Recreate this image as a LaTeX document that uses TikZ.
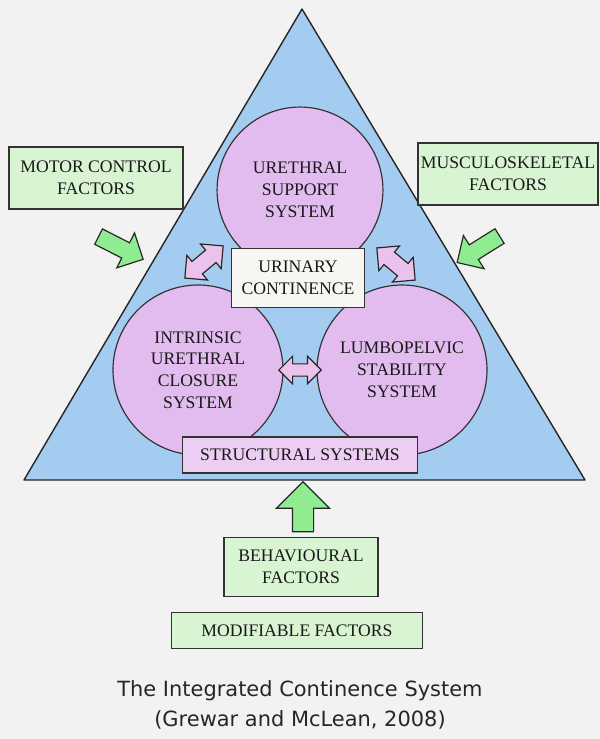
\documentclass[tikz,border=0pt]{standalone}
\usepackage{fontspec}
\setmainfont{Liberation Serif}
\newfontfamily\captionfont{DejaVu Sans}
\usepackage{tikz}
\usetikzlibrary{shapes.arrows,positioning}
\definecolor{bggray}{RGB}{242,242,242}
\definecolor{triblue}{RGB}{164,204,240}
\definecolor{syspink}{RGB}{226,188,238}
\definecolor{structpink}{RGB}{236,206,242}
\definecolor{boxgreen}{RGB}{216,244,210}
\definecolor{arrowgreen}{RGB}{144,236,144}
\definecolor{linkpink}{RGB}{234,194,236}
\definecolor{boxwhite}{RGB}{246,246,242}
\newcommand{\boxfont}{\fontsize{15}{18.5}\selectfont}
\tikzset{
    factor/.style={
           rectangle,
           draw=black!80,
           line width=1pt,
           inner sep=0pt,
           align=center,
           text=black!90,
           font=\boxfont,
           },
}

\begin{document}
\begin{tikzpicture}[
  x=0.85pt,y=-0.85pt,
  sys/.style={circle,draw=black!80,line width=1pt,fill=syspink,
    inner sep=0pt,align=center,text=black!90,font=\boxfont},
  greenbox/.style={fill=boxgreen},
  blockarrow/.style={single arrow,draw=black!85,line width=1pt,fill=arrowgreen,
    inner xsep=0pt,inner ysep=6.8pt,minimum height=42.5pt,
    single arrow head extend=9.35pt},
  linkarrow/.style={double arrow,draw=black!85,line width=1pt,fill=linkpink,
    inner xsep=0pt,inner ysep=6.4pt,minimum height=42.5pt,
    double arrow head extend=6.8pt}]
\useasboundingbox (0,0) rectangle (600,739);
\fill[bggray] (0,0) rectangle (600,739);

% triangle
\coordinate (apex) at (302,9);
\coordinate (baseR) at (585,480);
\coordinate (baseL) at (24,480);
\draw[fill=triblue,draw=black!85,line width=1.2pt,line join=round] (apex) -- (baseR) -- (baseL) -- cycle;

% the three systems
\node[sys,minimum size=141pt] (support) at (300,190) {URETHRAL\\SUPPORT\\SYSTEM};
\node[sys,minimum size=144.5pt] (closure) at (198,370) {INTRINSIC\\URETHRAL\\CLOSURE\\SYSTEM};
\node[sys,minimum size=144.5pt] (lumbo) at (402,370) {LUMBOPELVIC\\STABILITY\\SYSTEM};

\node[factor,fill=boxwhite,minimum width=113pt,minimum height=50pt] (continence) at (298,278) {URINARY\\CONTINENCE};
\node[factor,fill=structpink,minimum width=200pt,minimum height=30.6pt] (structural) at (300,455) {STRUCTURAL SYSTEMS};

% factors
\node[factor,greenbox,minimum width=148pt,minimum height=52.7pt] (motor) at (96,178) {MOTOR CONTROL\\FACTORS};
\node[factor,greenbox,minimum width=153pt,minimum height=52.7pt] (musculo) at (508,174) {MUSCULOSKELETAL\\FACTORS};
\node[factor,greenbox,minimum width=131pt,minimum height=50pt] (behav) at (301,567) {BEHAVIOURAL\\FACTORS};
\node[factor,greenbox,minimum width=213pt,minimum height=30.6pt,below=12.75pt of behav,xshift=-3.4pt] (modifiable) {MODIFIABLE FACTORS};

% block arrows
\node[blockarrow,rotate=-27] (motorarrow) at (117,246) {};
\node[blockarrow,rotate=212] (musculoarrow) at (482,247) {};
\node[blockarrow,rotate=90,inner ysep=8.5pt,single arrow head extend=13.6pt] (behavarrow) at (303,512) {};

\node[linkarrow,rotate=40] (leftlink) at (204,262) {};
\node[linkarrow,rotate=-40] (rightlink) at (396,264) {};
\node[linkarrow,inner ysep=4.7pt,double arrow head extend=6.5pt,minimum height=36pt] (midlink) at (300,370) {};

% caption
\node[font=\captionfont\fontsize{17.8}{26}\selectfont,align=center,text=black!85] (caption) at (300,705)
  {The Integrated Continence System\\(Grewar and McLean, 2008)};
\end{tikzpicture}
\end{document}
